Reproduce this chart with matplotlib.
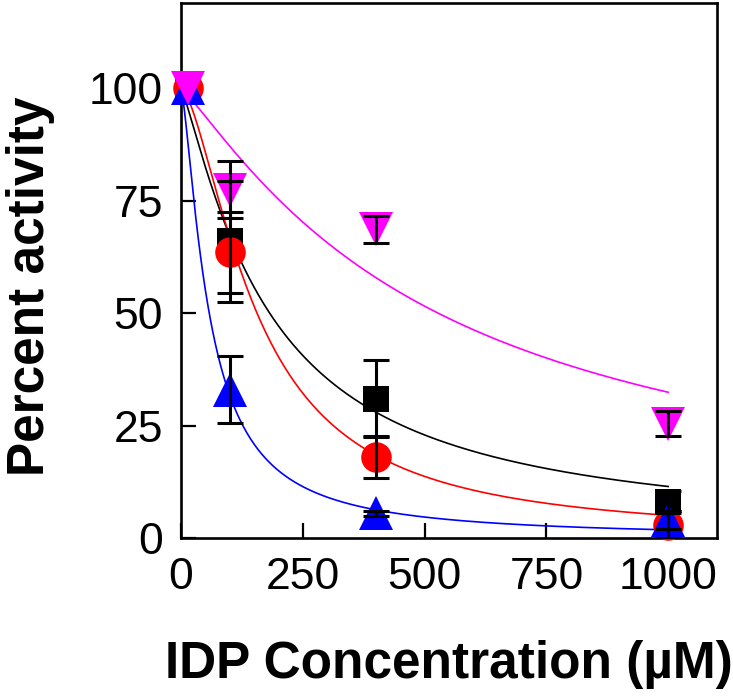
import numpy as np
import matplotlib
matplotlib.use('Agg')
import matplotlib.pyplot as plt

# concentrations (uM)
conc = [15, 100, 400, 1000]

# percent activity, four series (mean and error)
black_y = [100, 66, 31, 8]
black_err = [0, 13.5, 8.5, 2.5]
red_y = [100, 63.6, 18, 3]
red_err = [0, 9, 4.7, 3]
blue_y = [100, 33, 5.5, 4]
blue_err = [0, 7.5, 0.6, 2]
magenta_y = [100, 77.5, 68.7, 25.4]
magenta_err = [0, 6.4, 3, 2.8]

# fitted dose-response curves: (IC50, hill slope)
black_fit = (182, 1.2)
red_fit = (156, 1.58)
blue_fit = (57.9, 1.4)
magenta_fit = (528, 1.15)

xticks = [0, 250, 500, 750, 1000]
yticks = [0, 25, 50, 75, 100]


def main():
    plt.rcParams['font.family'] = ['Liberation Sans', 'DejaVu Sans']
    fig = plt.figure(figsize=(7.33, 6.99), dpi=100)
    ax = fig.add_axes([0.247, 0.2303, 0.731, 0.7654])

    xs = np.linspace(0, 1000, 400)
    series = [
        (black_y, black_err, black_fit, 'black', 's', 19),
        (red_y, red_err, red_fit, 'red', 'o', 22),
        (blue_y, blue_err, blue_fit, 'blue', '^', 25),
        (magenta_y, magenta_err, magenta_fit, 'magenta', 'v', 25),
    ]

    for y, err, fit, col, mk, ms in series:
        ic50, hill = fit
        ax.plot(xs, 100 / (1 + (xs / ic50) ** hill), color=col, lw=1.2, zorder=2)

    for y, err, fit, col, mk, ms in series:
        ax.plot(conc, y, linestyle='none', marker=mk, markersize=ms,
                color=col, markeredgewidth=0, zorder=3, clip_on=False)

    for y, err, fit, col, mk, ms in series:
        ax.errorbar(conc[1:], y[1:], yerr=err[1:], fmt='none', ecolor='black',
                    elinewidth=2.2, capsize=9.5, capthick=2.2, zorder=4)

    ax.set_xlim(0, 1100)
    ax.set_ylim(0, 119)
    ax.set_xticks(xticks)
    ax.set_yticks(yticks)
    ax.tick_params(direction='in', length=10.5, width=1.6, labelsize=32)
    ax.tick_params(axis='x', pad=14)
    ax.tick_params(axis='y', pad=13)
    for s in ax.spines.values():
        s.set_linewidth(1.9)

    ax.set_xlabel('IDP Concentration (\u00b5M)', fontsize=37, fontweight='bold')
    ax.set_ylabel('Percent activity', fontsize=37, fontweight='bold')
    ax.xaxis.set_label_coords(0.5, -0.19)
    ax.yaxis.set_label_coords(-0.235, 0.47)

    fig.savefig('out.png', dpi=100)


if __name__ == '__main__':
    main()
